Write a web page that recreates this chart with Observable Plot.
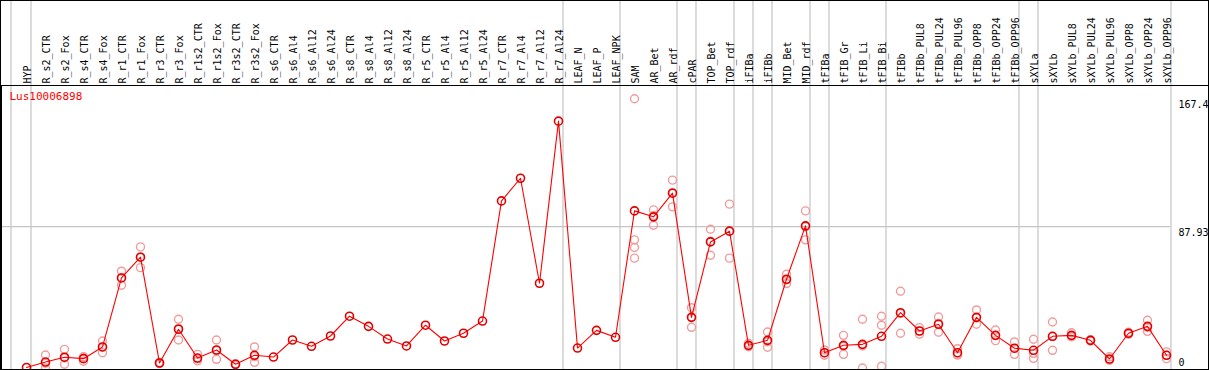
<!DOCTYPE html>
<html>
<head>
<meta charset="utf-8">
<script src="https://cdn.jsdelivr.net/npm/d3@7"></script>
<script src="https://cdn.jsdelivr.net/npm/@observablehq/plot@0.6"></script>
<style>
  html, body { margin: 0; padding: 0; background: white; }
  #chart svg { display: block; outline: 1px solid black; outline-offset: -1px; }
</style>
</head>
<body>
<div id="chart"></div>
<script>
const geneId = "Lus10006898";

const categories = [
  "HYP","R_s2_CTR","R_s2_Fox","R_s4_CTR","R_s4_Fox","R_r1_CTR","R_r1_Fox","R_r3_CTR","R_r3_Fox",
  "R_r1s2_CTR","R_r1s2_Fox","R_r3s2_CTR","R_r3s2_Fox","R_s6_CTR","R_s6_Al4","R_s6_Al12","R_s6_Al24",
  "R_s8_CTR","R_s8_Al4","R_s8_Al12","R_s8_Al24","R_r5_CTR","R_r5_Al4","R_r5_Al12","R_r5_Al24",
  "R_r7_CTR","R_r7_Al4","R_r7_Al12","R_r7_Al24","LEAF_N","LEAF_P","LEAF_NPK","SAM","AR_Bet","AR_rdf",
  "cPAR","TOP_Bet","TOP_rdf","iFIBa","iFIBb","MID_Bet","MID_rdf","tFIBa","tFIB_Gr","tFIB_Li","tFIB_Bi",
  "tFIBb","tFIBb_PUL8","tFIBb_PUL24","tFIBb_PUL96","tFIBb_OPP8","tFIBb_OPP24","tFIBb_OPP96",
  "sXYLa","sXYLb","sXYLb_PUL8","sXYLb_PUL24","sXYLb_PUL96","sXYLb_OPP8","sXYLb_OPP24","sXYLb_OPP96"
];

const means = [
  0.3, 3.7, 6.7, 5.8, 13.1, 56.0, 68.9, 3.1, 24.1,
  6.2, 11.2, 2.3, 7.9, 6.8, 17.4, 13.5, 19.9,
  32.2, 25.9, 18.0, 13.7, 26.6, 16.8, 21.6, 29.2,
  103.9, 118.0, 52.7, 153.5, 12.4, 23.4, 19.1, 97.7, 94.0, 108.7,
  31.5, 78.4, 85.1, 14.1, 17.2, 55.2, 88.4, 9.5, 14.1, 14.7, 19.7,
  34.4, 23.0, 27.2, 9.5, 31.5, 20.3, 12.3,
  11.0, 19.7, 20.3, 17.2, 5.6, 21.6, 25.9, 7.9
];

const replicates = [
  [], [8.1, 0, 3.0], [11.6, 2.3, 6.2], [7.0, 4.2, 6.2], [16.8, 9.5, 13.0],
  [60.2, 51.5, 56.3], [75.3, 62.4, 69.0], [3.1, 2.8, 3.4], [30.3, 17.4, 24.6],
  [8.5, 4.4, 5.7], [17.4, 5.4, 10.8], [2.3, 2.0, 2.6], [13.1, 3.5, 7.1],
  [], [], [], [], [], [], [], [], [], [], [], [], [], [], [], [], [], [], [],
  [167.4, 79.7, 74.9, 68.3], [98.3, 88.8, 94.9], [116.8, 100.2, 109.1],
  [37.5, 25.3, 31.7], [86.3, 70.1, 78.8], [101.9, 68.3, 85.1],
  [15.4, 13.2, 13.7], [22.4, 12.9, 16.3], [58.3, 52.5, 54.8], [97.7, 79.7, 87.8],
  [11.2, 7.9, 9.4], [20.3, 8.5, 13.5], [30.3, 0, 13.8], [32.2, 26.6, 1.1],
  [47.7, 21.6, 33.9], [25.1, 21.0, 22.9], [31.7, 22.2, 27.7], [12.0, 8.5, 8.0],
  [36.1, 27.2, 31.2], [23.6, 17.0, 20.3], [16.2, 8.5, 12.2],
  [17.9, 6.0, 9.1], [28.6, 11.0, 19.5], [21.9, 19.5, 19.5], [17.2, 16.8, 17.6],
  [7.0, 5.0, 4.8], [21.6, 21.0, 22.2], [29.7, 22.8, 25.2], [10.0, 5.8, 7.9]
];

// group separators drawn just after these categories
const separatorsAfter = ["HYP","R_r7_Al24","LEAF_NPK","AR_rdf","cPAR","TOP_rdf","iFIBa","iFIBb",
  "MID_rdf","tFIBa","tFIB_Bi","tFIBb_OPP96","sXYLa","sXYLb_OPP96"];
const separatorsBefore = ["HYP"];

const yMax = 167.4;
const gridValues = [87.93];
const yTicks = [167.4, 87.93, 0];
const yTickLabels = ["167.4", "87.93", "0"];

const rows = categories.map((c, i) => ({cat: c, mean: means[i]}));
const repRows = categories.flatMap((c, i) => replicates[i].map(v => ({cat: c, v})));
const tickRows = yTicks.map((v, i) => ({v, label: yTickLabels[i]}));

const chart = Plot.plot({
  width: 1209,
  height: 370,
  marginTop: 85,
  marginBottom: 1,
  marginLeft: 1,
  marginRight: 1,
  x: {type: "point", domain: categories, range: [26, 1166], padding: 0, axis: null},
  y: {domain: [0, yMax], range: [367.5, 98.3], axis: null},
  style: {fontFamily: "DejaVu Sans Mono", fontSize: "10px", background: "white", color: "black"},
  marks: [
    Plot.ruleX(separatorsAfter, {x: d => d, dx: 4.5, stroke: "#c4c4c4", strokeWidth: 1.2, insetTop: -85}),
    Plot.ruleX(separatorsBefore, {x: d => d, dx: -15.5, stroke: "#c4c4c4", strokeWidth: 1.2, insetTop: -85}),
    Plot.ruleY(gridValues, {y: d => d, stroke: "#c4c4c4", strokeWidth: 1.2, insetRight: 38}),
    Plot.frame({stroke: "black"}),
    Plot.text(categories, {x: d => d, text: d => d, frameAnchor: "top", dx: -3, dy: -2, rotate: -90,
      textAnchor: "start", fill: "black", fontSize: 10}),
    Plot.text(tickRows.filter(d => d.v > 0), {y: "v", text: "label", frameAnchor: "right", dx: -30, dy: 2,
      textAnchor: "start", lineAnchor: "top", fill: "black"}),
    Plot.text(tickRows.filter(d => d.v === 0), {y: "v", text: "label", frameAnchor: "right", dx: -30, dy: -2,
      textAnchor: "start", lineAnchor: "bottom", fill: "black"}),
    Plot.text([geneId], {text: d => d, frameAnchor: "top-left", dx: 8, dy: 7, textAnchor: "start",
      lineAnchor: "top", fill: "red", fontSize: 11}),
    Plot.dot(repRows, {x: "cat", y: "v", r: 4, stroke: "#f09c9c", strokeWidth: 1.4, fill: "none"}),
    Plot.line(rows, {x: "cat", y: "mean", stroke: "red", strokeWidth: 1.1}),
    Plot.dot(rows, {x: "cat", y: "mean", r: 4, stroke: "#e00000", strokeWidth: 1.6, fill: "none"})
  ]
});
document.getElementById("chart").appendChild(chart);
</script>
</body>
</html>
